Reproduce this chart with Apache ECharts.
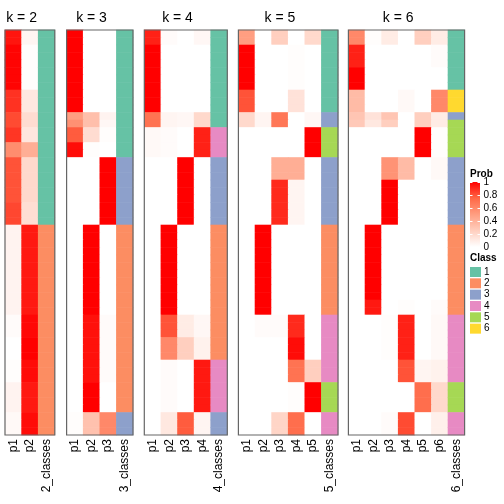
<!DOCTYPE html>
<html><head><meta charset="utf-8">
<script src="https://cdn.jsdelivr.net/npm/echarts@6/dist/echarts.min.js"></script>
<style>html,body{margin:0;padding:0;background:#fff}#c{width:504px;height:504px}</style>
</head><body><div id="c"></div><script>
// ---------------- data ----------------
const kValues = [2, 3, 4, 5, 6];
const classLabels = ['1', '2', '3', '4', '5', '6'];
const probTicks = [0, 0.2, 0.4, 0.6, 0.8, 1];
// probability runs: [firstRow, endRow(excl), p1..pk]
const prob2 = [
  [0, 2, 0.95, 0.05], [2, 8, 0.99, 0.01], [8, 11, 0.88, 0.12], [11, 13, 0.82, 0.18],
  [13, 15, 0.87, 0.13], [15, 17, 0.58, 0.42], [17, 23, 0.8, 0.2], [23, 26, 0.83, 0.17],
  [26, 38, 0.06, 0.94], [38, 41, 0.02, 0.98], [41, 44, 0, 1], [44, 47, 0.01, 0.97],
  [47, 51, 0.06, 0.94], [51, 54, 0.03, 0.97]
];
const prob3 = [
  [0, 11, 1, 0, 0], [11, 12, 0.5, 0.33, 0.06], [12, 13, 0.56, 0.33, 0.04],
  [13, 15, 0.78, 0.18, 0.01], [15, 17, 0.97, 0.01, 0], [17, 26, 0, 0, 1],
  [26, 38, 0, 1, 0], [38, 47, 0, 0.96, 0.02], [47, 51, 0, 1, 0], [51, 54, 0.01, 0.32, 0.6]
];
const prob4 = [
  [0, 2, 0.92, 0.02, 0, 0.04], [2, 11, 1, 0, 0, 0], [11, 13, 0.7, 0.05, 0.04, 0.2],
  [13, 17, 0.03, 0.02, 0, 0.92], [17, 26, 0, 0, 1, 0], [26, 38, 0, 1, 0, 0],
  [38, 41, 0, 0.8, 0.1, 0.04], [41, 44, 0, 0.6, 0.25, 0.07], [44, 51, 0, 0.02, 0, 0.94],
  [51, 54, 0, 0.12, 0.78, 0.05]
];
const prob5 = [
  [0, 2, 0.5, 0, 0.25, 0, 0.2], [2, 8, 1, 0, 0, 0.01, 0], [8, 11, 0.8, 0, 0, 0.15, 0],
  [11, 13, 0.2, 0.05, 0.68, 0, 0.04], [13, 17, 0, 0, 0, 0, 1], [17, 20, 0, 0, 0.42, 0.42, 0],
  [20, 26, 0, 0, 0.9, 0.05, 0], [26, 38, 0, 1, 0, 0, 0], [38, 41, 0, 0.02, 0.02, 0.9, 0],
  [41, 44, 0, 0, 0, 0.97, 0], [44, 47, 0, 0, 0, 0.7, 0.25], [47, 51, 0, 0, 0, 0.01, 1],
  [51, 54, 0, 0, 0.22, 0.72, 0]
];
const prob6 = [
  [0, 2, 0.6, 0.01, 0.1, 0, 0.25, 0.1], [2, 5, 0.92, 0, 0, 0, 0, 0.02], [5, 8, 1, 0, 0, 0, 0, 0],
  [8, 11, 0.35, 0, 0, 0.03, 0, 0.6], [11, 12, 0.3, 0.15, 0.3, 0, 0.25, 0.1],
  [12, 13, 0.28, 0.12, 0.25, 0, 0.25, 0.1], [13, 17, 0, 0, 0, 0, 1, 0.01],
  [17, 20, 0, 0, 0.55, 0.35, 0, 0.03], [20, 26, 0, 0, 1, 0, 0, 0], [26, 36, 0, 1, 0, 0, 0, 0],
  [36, 38, 0, 0.94, 0, 0.01, 0, 0.02], [38, 44, 0, 0, 0.01, 0.92, 0, 0.03],
  [44, 47, 0, 0, 0, 0.8, 0.05, 0.07], [47, 51, 0, 0, 0, 0, 0.72, 0.2],
  [51, 54, 0, 0, 0.02, 0.82, 0, 0.08]
];
// class of each of the 54 rows
const class2 = [1,1,1,1,1,1,1,1,1,1,1,1,1,1,1,1,1,1,1,1,1,1,1,1,1,1,
  2,2,2,2,2,2,2,2,2,2,2,2,2,2,2,2,2,2,2,2,2,2,2,2,2,2,2,2];
const class3 = [1,1,1,1,1,1,1,1,1,1,1,1,1,1,1,1,1,3,3,3,3,3,3,3,3,3,
  2,2,2,2,2,2,2,2,2,2,2,2,2,2,2,2,2,2,2,2,2,2,2,2,2,3,3,3];
const class4 = [1,1,1,1,1,1,1,1,1,1,1,1,1,4,4,4,4,3,3,3,3,3,3,3,3,3,
  2,2,2,2,2,2,2,2,2,2,2,2,2,2,2,2,2,2,4,4,4,4,4,4,4,3,3,3];
const class5 = [1,1,1,1,1,1,1,1,1,1,1,3,3,5,5,5,5,3,3,3,3,3,3,3,3,3,
  2,2,2,2,2,2,2,2,2,2,2,2,4,4,4,4,4,4,4,4,4,5,5,5,5,4,4,4];
const class6 = [1,1,1,1,1,1,1,1,6,6,6,3,5,5,5,5,5,3,3,3,3,3,3,3,3,3,
  2,2,2,2,2,2,2,2,2,2,2,2,4,4,4,4,4,4,4,4,4,5,5,5,5,4,4,4];
const probRuns = [prob2, prob3, prob4, prob5, prob6];
const classRows = [class2, class3, class4, class5, class6];

// ---------------- style ----------------
const classColors = ['#66C2A5', '#FC8D62', '#8DA0CB', '#E78AC3', '#A6D854', '#FFD92F'];
const probColors = ['#FFFFFF', '#FFCFBF', '#FF9E81', '#FF6846', '#FF0000'];
const FONT = "'Liberation Sans', Arial, sans-serif";
const colW = 16.6, topY = 30, panelH = 405, nRows = 54;
const lefts = [5, 66.6, 144.3, 238.4, 348.4];

// cell drawn through the axes; tiny overlap hides antialias seams
function renderCell(params, api) {
  const c = api.coord([api.value(0), api.value(1)]);
  const s = api.size([1, 1]);
  return {type: 'rect', silent: true,
    shape: {x: c[0] - s[0] / 2 - 0.3, y: c[1] - s[1] / 2 - 0.3, width: s[0] + 0.6, height: s[1] + 0.6},
    style: {fill: api.visual('color')}};
}

const rowNames = Array.from({length: nRows}, (_, i) => 'r' + i);
const grid = [], xAxis = [], yAxis = [], series = [], graphic = [];
const probIdx = [], classIdx = [];
kValues.forEach((k, i) => {
  const w = colW * (k + 1);
  grid.push({left: lefts[i], top: topY, width: w, height: panelH});
  const cats = [];
  for (let j = 1; j <= k; j++) cats.push('p' + j);
  cats.push(k + '_classes');
  xAxis.push({gridIndex: i, type: 'category', data: cats,
    axisLine: {show: false}, axisTick: {show: false}, splitLine: {show: false},
    axisLabel: {rotate: 90, interval: 0, margin: 4, fontSize: 12, color: '#000', fontFamily: FONT}});
  yAxis.push({gridIndex: i, type: 'category', data: rowNames, inverse: true, show: false});
  const pd = [];
  probRuns[i].forEach(run => {
    for (let r = run[0]; r < run[1]; r++)
      for (let j = 0; j < k; j++) pd.push([j, r, run[2 + j]]);
  });
  probIdx.push(series.length);
  series.push({type: 'custom', xAxisIndex: i, yAxisIndex: i, data: pd, renderItem: renderCell,
    encode: {x: 0, y: 1}, clip: false, progressive: 0});
  const cd = classRows[i].map((c, r) => [k, r, c]);
  classIdx.push(series.length);
  series.push({type: 'custom', xAxisIndex: i, yAxisIndex: i, data: cd, renderItem: renderCell,
    encode: {x: 0, y: 1}, clip: false, progressive: 0});
  graphic.push({type: 'rect', z: 100, silent: true,
    shape: {x: lefts[i], y: topY, width: w, height: panelH},
    style: {fill: 'none', stroke: '#666', lineWidth: 1.2}});
  graphic.push({type: 'text', z: 100, silent: true,
    style: {text: 'k = ' + k, x: lefts[i] + colW * k / 2, y: 18, align: 'center', verticalAlign: 'middle',
      textAlign: 'center', textVerticalAlign: 'middle', font: '14px ' + FONT, fill: '#000'}});
});

// probability colour bar (legend)
const gi = kValues.length;
grid.push({left: 470, top: 182, width: 10, height: 65});
xAxis.push({gridIndex: gi, type: 'category', data: ['Prob'], show: false});
yAxis.push({gridIndex: gi, type: 'value', min: 0, max: 1, interval: 0.2, position: 'right', z: 10,
  axisLine: {show: false}, splitLine: {show: false},
  axisTick: {show: true, inside: true, length: 2.5, lineStyle: {color: '#fff', width: 1}},
  axisLabel: {show: true, margin: 3.5, fontSize: 10, color: '#000', fontFamily: FONT}});
yAxis.push({gridIndex: gi, type: 'value', min: 0, max: 1, interval: 0.2, position: 'left', z: 10,
  axisLine: {show: false}, splitLine: {show: false}, axisLabel: {show: false},
  axisTick: {show: true, inside: true, length: 2.5, lineStyle: {color: '#fff', width: 1}}});
series.push({type: 'bar', xAxisIndex: gi, yAxisIndex: gi, data: [probTicks[probTicks.length - 1]],
  barWidth: '100%', silent: true,
  itemStyle: {color: {type: 'linear', x: 0, y: 0, x2: 0, y2: 1,
    colorStops: probColors.slice().reverse().map((c, i, a) => ({offset: i / (a.length - 1), color: c}))}}});

graphic.push({type: 'text', silent: true, style: {text: 'Prob', x: 470, y: 174, verticalAlign: 'middle',
  textVerticalAlign: 'middle', font: 'bold 10px ' + FONT, fill: '#000'}});
graphic.push({type: 'text', silent: true, style: {text: 'Class', x: 470, y: 258.5, verticalAlign: 'middle',
  textVerticalAlign: 'middle', font: 'bold 10px ' + FONT, fill: '#000'}});

const option = {
  animation: false,
  backgroundColor: '#fff',
  grid, xAxis, yAxis, series, graphic,
  visualMap: [
    {type: 'continuous', show: false, min: 0, max: 1, dimension: 2, seriesIndex: probIdx, inRange: {color: probColors}},
    {type: 'piecewise', seriesIndex: classIdx, dimension: 2, orient: 'vertical', inverse: true, align: 'left',
      left: 470, top: 267, padding: 0, itemWidth: 11, itemHeight: 10, itemGap: 1.33, itemSymbol: 'rect',
      textGap: 3, selectedMode: false, textStyle: {fontSize: 10, color: '#000', fontFamily: FONT},
      pieces: classLabels.map((l, i) => ({value: i + 1, label: l, color: classColors[i]}))}
  ]
};
const chart = echarts.init(document.getElementById('c'), null, {renderer: 'canvas'});
chart.setOption(option);
</script></body></html>
